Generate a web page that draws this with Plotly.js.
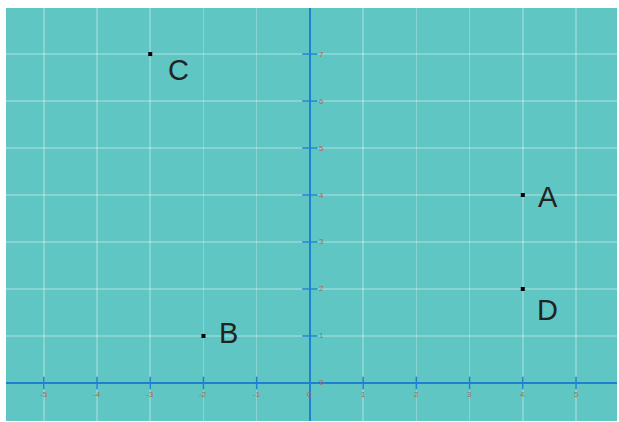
<!DOCTYPE html>
<html>
<head>
<meta charset="utf-8">
<script src="https://cdn.plot.ly/plotly-3.0.1.min.js"></script>
<style>html,body{margin:0;padding:0;background:#fff;}#chart{width:619px;height:422px;}</style>
</head>
<body>
<div id="chart"></div>
<script>
const pointNames = ["A", "B", "C", "D"];
const pointX = [4, -2, -3, 4];
const pointY = [4, 1, 7, 2];
const labelDx = [25, 25, 28, 25];
const labelDy = [2, -3, 16, 21];
const xTicks = [-5, -4, -3, -2, -1, 0, 1, 2, 3, 4, 5];
const yTicks = [0, 1, 2, 3, 4, 5, 6, 7];

const axisBlue = "#2080d0";
const tickColor = "#a86a52";

const traces = [
  {
    type: "scatter", mode: "markers", hoverinfo: "skip",
    x: xTicks.filter(v => v !== 0), y: xTicks.filter(v => v !== 0).map(() => 0),
    marker: {symbol: "line-ns", size: 9, line: {color: axisBlue, width: 1.5}}
  },
  {
    type: "scatter", mode: "markers", hoverinfo: "skip",
    x: yTicks.filter(v => v !== 0).map(() => 0), y: yTicks.filter(v => v !== 0),
    marker: {symbol: "line-ew", size: 11, line: {color: axisBlue, width: 1.5}}
  },
  {
    type: "scatter", mode: "markers",
    x: pointX, y: pointY,
    marker: {symbol: "square", size: 4, color: "#000"}
  }
];

const annotations = [];
pointNames.forEach((n, i) => annotations.push({
  x: pointX[i], y: pointY[i], text: n, showarrow: false,
  xanchor: "center", yanchor: "middle",
  xshift: labelDx[i], yshift: -labelDy[i],
  font: {family: "Liberation Sans, Arial, sans-serif", size: 29, color: "#222"}
}));
xTicks.forEach(v => annotations.push({
  x: v, y: 0, text: String(v), showarrow: false, yshift: -12,
  font: {family: "Arial, sans-serif", size: 8, color: tickColor}
}));
yTicks.forEach(v => annotations.push({
  x: 0, y: v, text: String(v), showarrow: false, xshift: 12,
  font: {family: "Arial, sans-serif", size: 8, color: tickColor}
}));

const layout = {
  width: 619, height: 422,
  margin: {l: 6, r: 2, t: 8, b: 1},
  paper_bgcolor: "#ffffff",
  plot_bgcolor: "#5fc6c4",
  showlegend: false,
  xaxis: {
    range: [-5.71, 5.77], dtick: 1, tick0: 0,
    showgrid: true, gridcolor: "rgba(255,255,255,0.25)", gridwidth: 1.5,
    zeroline: true, zerolinecolor: axisBlue, zerolinewidth: 2,
    showticklabels: false, ticks: "", fixedrange: true
  },
  yaxis: {
    range: [-0.81, 7.98], dtick: 1, tick0: 0,
    showgrid: true, gridcolor: "rgba(255,255,255,0.25)", gridwidth: 1.5,
    zeroline: true, zerolinecolor: axisBlue, zerolinewidth: 2,
    showticklabels: false, ticks: "", fixedrange: true
  },
  annotations: annotations
};

Plotly.newPlot("chart", traces, layout, {displayModeBar: false, staticPlot: true});
</script>
</body>
</html>
